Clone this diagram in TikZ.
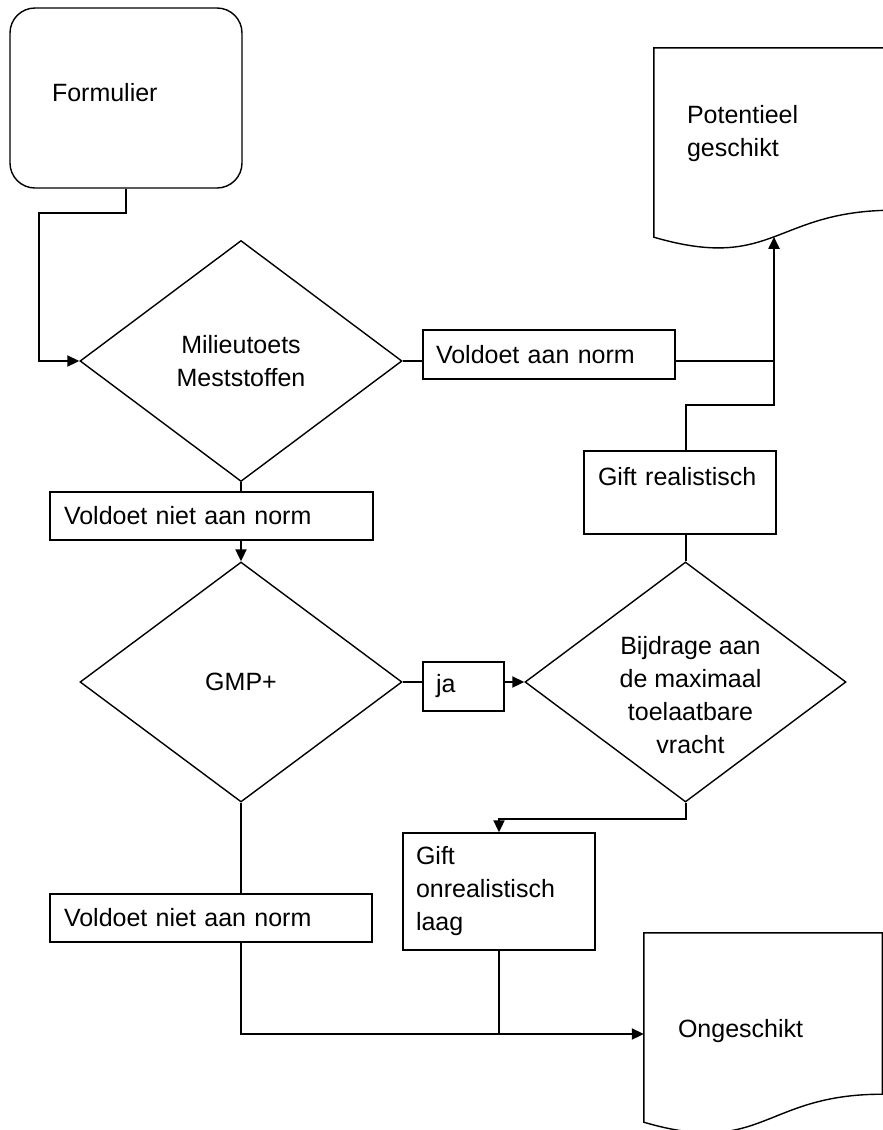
\documentclass[tikz,border=0pt]{standalone}
\usepackage{fontspec}
\setmainfont{Liberation Sans}
\usetikzlibrary{arrows.meta,shapes.geometric,calc}

\begin{document}
\begin{tikzpicture}[x=1pt, y=-1pt,
        font=\fontsize{25}{33}\selectfont,
        box/.style={draw, rectangle, line width=1.4pt, align=left, inner ysep=6pt},
        decision/.style={draw, diamond, line width=1.4pt, align=center, inner sep=0pt, minimum width=322pt, minimum height=241pt},
        doc/.style={rectangle, inner sep=0pt, minimum width=240pt, minimum height=202pt},
        doctext/.style={anchor=north west, align=left, inner sep=0pt, xshift=33pt},
        arrow/.style={-{Triangle[length=12pt, width=11pt]}, line width=2pt},
        link/.style={line width=2pt}]

        \useasboundingbox (0,0) rectangle (883,1130);

        % Start node
        \node (formulier) [box, rounded corners=25pt, minimum width=232pt, minimum height=180pt, text width=148pt, text depth=12pt] at (126,98) {Formulier};

        % Decision nodes
        \node (milieutoets) [decision] at (241,361) {Milieutoets\\Meststoffen};
        \node (gmp) [decision, minimum height=240pt] at (241,682) {GMP+};
        \node (bijdrage) [decision, minimum width=321pt, minimum height=240pt, label={[align=center, inner sep=0pt, xshift=5pt, yshift=-13pt]center:Bijdrage aan\\de maximaal\\toelaatbare\\vracht}] at (685.5,682) {};

        % Text boxes
        \node (voldoet) [box, minimum width=252pt, minimum height=49pt, text width=226pt, inner xsep=13pt] at (549,354.5) {Voldoet aan norm};
        \node (nietnorm1) [box, minimum width=323pt, minimum height=48pt, text width=295pt, inner xsep=14pt] at (211.5,516) {Voldoet niet aan norm};
        \node (ja) [box, minimum width=81pt, minimum height=49pt, text width=55pt, inner xsep=13pt] at (463.5,686.5) {ja};
        \node (realistisch) [box, minimum width=192pt, minimum height=83pt, text width=164pt, inner xsep=14pt, text depth=33pt] at (680,492.5) {Gift realistisch};
        \node (onrealistisch) [box, minimum width=192pt, minimum height=117pt, text width=166pt, inner xsep=13pt] at (499,891.5) {Gift\\onrealistisch\\laag};
        \node (nietnorm2) [box, minimum width=322pt, minimum height=48pt, text width=294pt, inner xsep=14pt] at (211,918) {Voldoet niet aan norm};

        % Document nodes
        \node (potentieel) [doc, label={[doctext, yshift=-57pt]north west:Potentieel\\geschikt}] at (774,149) {};
        \node (ongeschikt) [doc, minimum width=238pt, label={[doctext, xshift=1pt, yshift=-86.5pt]north west:Ongeschikt}] at (763,1034) {};

        % Document outlines
        \draw[line width=1.4pt] (potentieel.north west) -- (potentieel.north east) -- ($(potentieel.south east)+(0,-40)$) .. controls ($(potentieel.south)+(0,-40)$) and ($(potentieel.south)+(0,22)$) .. ($(potentieel.south west)+(0,-13)$) coordinate[pos=0.5] (potentieelwave) -- cycle;
        \draw[line width=1.4pt] (ongeschikt.north west) -- (ongeschikt.north east) -- ($(ongeschikt.south east)+(0,-41)$) .. controls ($(ongeschikt.south)+(0,-41)$) and ($(ongeschikt.south)+(0,22)$) .. ($(ongeschikt.south west)+(0,-13)$) -- cycle;

        % Arrows
        \draw[arrow] (formulier.south) -- ++(0,24) -| ($(milieutoets.west)+(-40,0)$) -- (milieutoets.west);
        \draw[link] (milieutoets.south) -- (milieutoets.south |- nietnorm1.north);
        \draw[arrow] (gmp.north |- nietnorm1.south) -- (gmp.north);
        \draw[link] (milieutoets.east) -- (milieutoets.east -| voldoet.west);
        \draw[link] (milieutoets.east -| voldoet.east) -- (milieutoets.east -| potentieelwave);
        \draw[arrow] (realistisch.north -| bijdrage.north) -- ++(0,-45) -| (potentieelwave);
        \draw[link] (gmp.east) -- (gmp.east -| ja.west);
        \draw[arrow] (bijdrage.west -| ja.east) -- (bijdrage.west);
        \draw[link] (bijdrage.north) -- (bijdrage.north |- realistisch.south);
        \draw[arrow] (bijdrage.south) -- ++(0,16) -| (onrealistisch.north);
        \draw[link] (gmp.south) -- (gmp.south |- nietnorm2.north);
        \draw[arrow] (gmp.south |- nietnorm2.south) |- (ongeschikt.west);
        \draw[link] (onrealistisch.south) -- (onrealistisch.south |- ongeschikt.west);

\end{tikzpicture}
\end{document}
